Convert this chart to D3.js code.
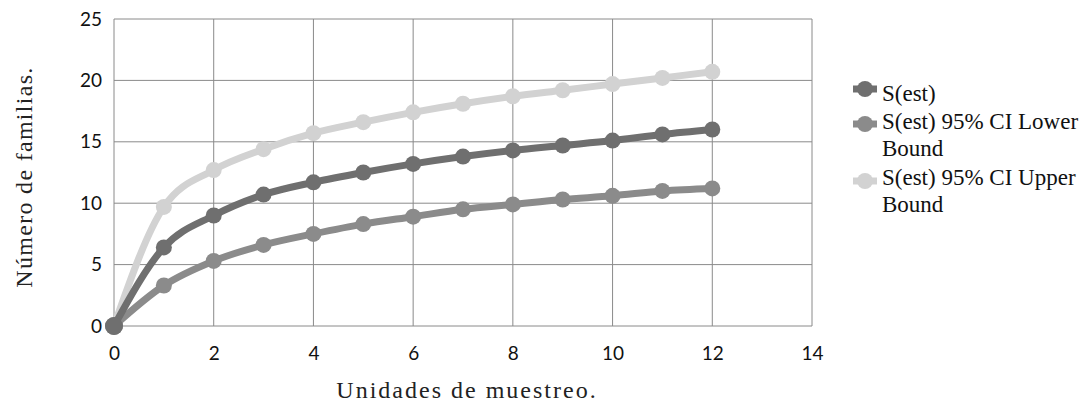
<!DOCTYPE html>
<html>
<head>
<meta charset="utf-8">
<script src="https://cdn.jsdelivr.net/npm/d3@7"></script>
<style>
  html, body { margin: 0; padding: 0; background: #fff; }
  svg { display: block; }
</style>
</head>
<body>
<svg id="chart" width="1092" height="404"></svg>
<script>
// Sampling units (x) and estimated family richness series
const units = [0, 1, 2, 3, 4, 5, 6, 7, 8, 9, 10, 11, 12];
const sEst = [0, 6.4, 9.0, 10.7, 11.7, 12.5, 13.2, 13.8, 14.3, 14.7, 15.1, 15.6, 16.0];
const sLower = [0, 3.3, 5.3, 6.6, 7.5, 8.3, 8.9, 9.5, 9.9, 10.3, 10.6, 11.0, 11.2];
const sUpper = [0, 9.7, 12.7, 14.4, 15.7, 16.6, 17.4, 18.1, 18.7, 19.2, 19.7, 20.2, 20.7];
const xTicks = [0, 2, 4, 6, 8, 10, 12, 14];
const yTicks = [0, 5, 10, 15, 20, 25];
const seriesNames = ["S(est)", "S(est) 95% CI Lower Bound", "S(est) 95% CI Upper Bound"];

const svg = d3.select("#chart");
const plotLeft = 114, plotRight = 812, plotTop = 19, plotBottom = 326;
const serif = "'Liberation Serif', 'Times New Roman', serif";

const x = d3.scaleLinear().domain([0, 14]).range([plotLeft, plotRight]);
const y = d3.scaleLinear().domain([0, 25]).range([plotBottom, plotTop]);

// gridlines
const grid = svg.append("g");
grid.selectAll("line.v").data(xTicks).join("line")
  .attr("x1", d => x(d)).attr("x2", d => x(d))
  .attr("y1", plotTop).attr("y2", plotBottom)
  .attr("stroke", "#8a8a8a").attr("stroke-width", 1);
grid.selectAll("line.h").data(yTicks).join("line")
  .attr("x1", plotLeft).attr("x2", plotRight)
  .attr("y1", d => y(d)).attr("y2", d => y(d))
  .attr("stroke", "#8a8a8a").attr("stroke-width", 1);

// axes (labels only; gridlines form the frame)
const xAxis = svg.append("g").attr("transform", `translate(0,${plotBottom})`)
  .call(d3.axisBottom(x).tickValues(xTicks).tickSize(0).tickPadding(21));
const yAxis = svg.append("g").attr("transform", `translate(${plotLeft},0)`)
  .call(d3.axisLeft(y).tickValues(yTicks).tickSize(0).tickPadding(12));
[xAxis, yAxis].forEach(a => {
  a.select(".domain").remove();
  a.selectAll("text").attr("font-family", "Lato, 'Open Sans', sans-serif")
    .attr("font-size", 19).attr("fill", "#111");
});

// series
const series = [
  { name: seriesNames[2], values: sUpper, color: "#d2d2d2" },
  { name: seriesNames[1], values: sLower, color: "#8b8b8b" },
  { name: seriesNames[0], values: sEst, color: "#6f6f6f" }
];

const line = d3.line()
  .x((d, i) => x(units[i]))
  .y(d => y(d))
  .curve(d3.curveMonotoneX);

series.forEach(s => {
  const g = svg.append("g");
  g.append("path").datum(s.values)
    .attr("d", line).attr("fill", "none")
    .attr("stroke", s.color).attr("stroke-width", 7)
    .attr("stroke-linejoin", "round");
  g.selectAll("circle").data(s.values).join("circle")
    .attr("cx", (d, i) => x(units[i])).attr("cy", d => y(d))
    .attr("r", d => d === 0 ? 9 : 8).attr("fill", s.color);
});

// axis titles
svg.append("text")
  .attr("x", 467).attr("y", 398)
  .attr("text-anchor", "middle")
  .attr("font-family", serif)
  .attr("font-size", 24).attr("letter-spacing", 2).attr("fill", "#222")
  .text("Unidades de muestreo.");
svg.append("text")
  .attr("transform", `translate(32,177) rotate(-90)`)
  .attr("text-anchor", "middle")
  .attr("font-family", serif)
  .attr("font-size", 24).attr("letter-spacing", 1.3).attr("fill", "#222")
  .text("Número de familias.");

// legend
const legendItems = [
  { lines: ["S(est)"], color: "#6f6f6f", y: 89, base: 101 },
  { lines: ["S(est) 95% CI Lower", "Bound"], color: "#8b8b8b", y: 124, base: 129 },
  { lines: ["S(est) 95% CI Upper", "Bound"], color: "#d2d2d2", y: 181, base: 185 }
];
const legend = svg.append("g");
legendItems.forEach(item => {
  const gi = legend.append("g");
  gi.append("line").attr("x1", 853).attr("x2", 877)
    .attr("y1", item.y).attr("y2", item.y)
    .attr("stroke", item.color).attr("stroke-width", 7);
  gi.append("circle").attr("cx", 865).attr("cy", item.y).attr("r", 8)
    .attr("fill", item.color);
  item.lines.forEach((t, k) => {
    gi.append("text").attr("x", 882).attr("y", item.base + k * 27)
      .attr("font-family", serif)
      .attr("font-size", 23).attr("fill", "#111")
      .text(t);
  });
});
</script>
</body>
</html>
